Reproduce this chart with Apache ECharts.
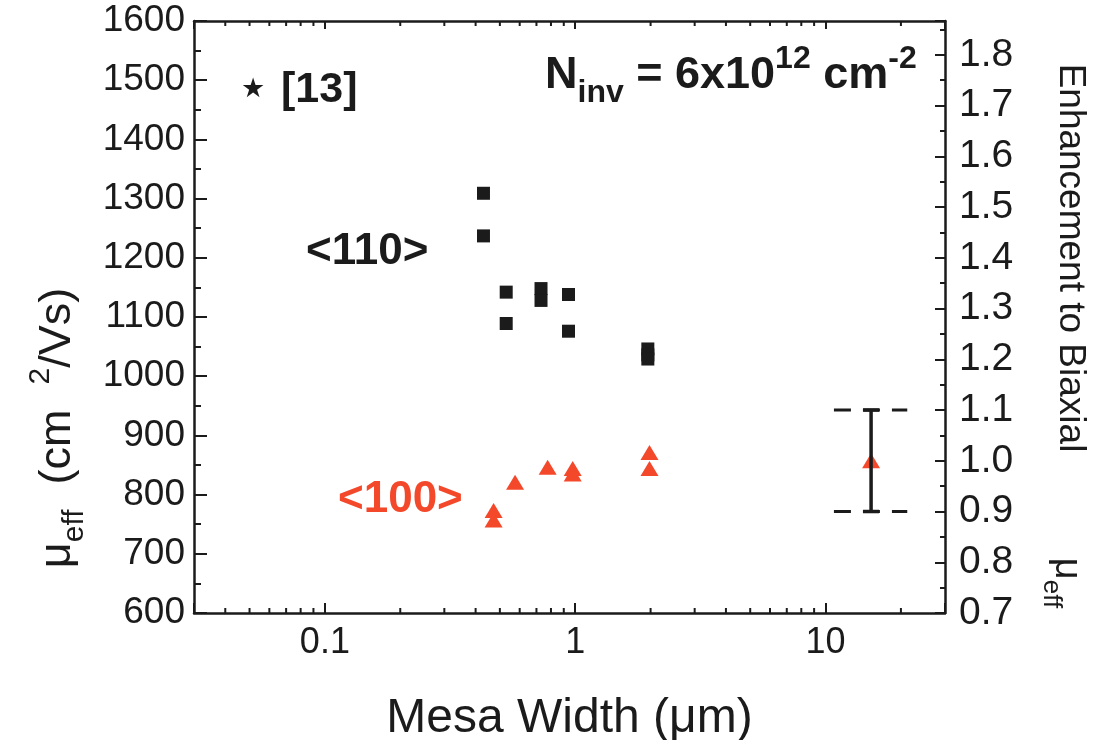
<!DOCTYPE html>
<html><head><meta charset="utf-8">
<script src="https://cdn.jsdelivr.net/npm/echarts@6/dist/echarts.min.js"></script>
<style>html,body{margin:0;padding:0;background:#fff}#c{width:1094px;height:740px}</style>
</head><body><div id="c"></div>
<script>
// ---- data ----
const xMajorLabels = ['0.1', '1', '10'];
const xMinorTicks = [0.04,0.05,0.06,0.07,0.08,0.09,0.2,0.3,0.4,0.5,0.6,0.7,0.8,0.9,2,3,4,5,6,7,8,9,20];
const width110 = [0.43, 0.43, 0.53, 0.53, 0.73, 0.73, 0.94, 0.94, 1.95, 1.95, 1.95];
const mu110    = [1309, 1237, 1142, 1089, 1148, 1128, 1138, 1076, 1046, 1036, 1029];
const width100 = [0.472, 0.472, 0.575, 0.776, 0.977, 0.977, 1.98, 1.98];
const mu100    = [773, 757, 821, 846, 844, 835, 871, 844];
const biaxWidth = [15.2];
const biaxEnh   = [1.0];
const biaxErr   = [0.1];
const dashWidth  = [10.8, 21.2];
const dashLevels = [1.1, 0.9];
const muBiaxial = 600 / 0.7;   // left/right axis ratio

const FONT = "'Liberation Sans', Arial, sans-serif";
const BLACK = '#1b1b1b';
const RED = '#f4482b';

const chart = echarts.init(document.getElementById('c'), null, {renderer: 'canvas'});

const sqData = width110.map((w, i) => [w, mu110[i]]);
const triData = width100.map((w, i) => [w, mu100[i]]);
const errData = biaxWidth.map((w, i) => [w, biaxEnh[i] - biaxErr[i], biaxEnh[i] + biaxErr[i]]);

const axisLineStyle = {color: BLACK, width: 2.5};

const option = {
  backgroundColor: '#fff',
  animation: false,
  grid: {left: 194, right: 149, top: 21, bottom: 127, containLabel: false, outerBoundsMode: 'none'},
  xAxis: [
    {
      type: 'log', logBase: 10, min: 0.03, max: 30, position: 'bottom',
      axisLine: {show: true, lineStyle: axisLineStyle},
      axisTick: {show: true, inside: true, length: 10, lineStyle: {color: BLACK, width: 2}},
      splitLine: {show: false},
      axisLabel: {
        show: true, margin: 12, fontSize: 36, color: BLACK, fontFamily: FONT,
        formatter: v => { const s = String(+v.toPrecision(6)); return xMajorLabels.includes(s) ? s : ''; }
      },
      name: 'Mesa Width (μm)', nameLocation: 'middle', nameGap: 82,
      nameTextStyle: {fontSize: 48, color: BLACK, fontFamily: FONT}
    },
    {
      type: 'log', logBase: 10, min: 0.03, max: 30, position: 'top',
      axisLine: {show: true, lineStyle: axisLineStyle},
      axisTick: {show: true, inside: true, length: 8, lineStyle: {color: BLACK, width: 2}},
      splitLine: {show: false},
      axisLabel: {show: false}
    }
  ],
  yAxis: [
    {
      type: 'value', min: 600, max: 1600, interval: 100, position: 'left',
      axisLine: {show: true, lineStyle: axisLineStyle},
      axisTick: {show: true, inside: true, length: 13, lineStyle: {color: BLACK, width: 2}},
      minorTick: {show: true, splitNumber: 2, length: 7, lineStyle: {color: BLACK, width: 2}},
      splitLine: {show: false},
      axisLabel: {margin: 9, fontSize: 37, color: BLACK, fontFamily: FONT, formatter: v => String(v)}
    },
    {
      type: 'value', min: 0.7, max: 1600 / muBiaxial, interval: 0.1, position: 'right',
      axisLine: {show: true, lineStyle: axisLineStyle},
      axisTick: {show: true, inside: true, length: 10, lineStyle: {color: BLACK, width: 2}},
      minorTick: {show: true, splitNumber: 2, length: 5, lineStyle: {color: BLACK, width: 2}},
      splitLine: {show: false},
      axisLabel: {
        margin: 14, fontSize: 39, color: BLACK, fontFamily: FONT,
        formatter: v => Math.abs(v * 10 - Math.round(v * 10)) < 1e-6 ? v.toFixed(1) : ''
      }
    }
  ],
  graphic: [
    {type: 'text', x: 241, y: 90, style: {
      text: '★', textVerticalAlign: 'middle', fontSize: 27, fontFamily: 'DejaVu Sans', fill: BLACK}},
    {type: 'text', x: 281, y: 90, style: {
      text: '[13]', textVerticalAlign: 'middle', fontSize: 43, fontWeight: 'bold', fontFamily: FONT, fill: BLACK}},
    {type: 'text', x: 545, y: 76, style: {
      text: '{b|N}{sub|inv}{b| = 6x10}{sup|12}{b| cm}{sup|-2}', textVerticalAlign: 'middle', fill: BLACK,
      rich: {b: {fontSize: 45, fontWeight: 'bold', fontFamily: FONT, fill: BLACK, lineHeight: 66},
             sub: {fontSize: 32, fontWeight: 'bold', fontFamily: FONT, fill: BLACK, verticalAlign: 'bottom', lineHeight: 66},
             sup: {fontSize: 32, fontWeight: 'bold', fontFamily: FONT, fill: BLACK, verticalAlign: 'top', lineHeight: 66}}}},
    {type: 'text', x: 306, y: 252, style: {
      text: '<110>', textVerticalAlign: 'middle', fontSize: 44, fontWeight: 'bold', fontFamily: FONT, fill: BLACK}},
    {type: 'text', x: 338, y: 500, style: {
      text: '<100>', textVerticalAlign: 'middle', fontSize: 44, fontWeight: 'bold', fontFamily: FONT, fill: RED}},
    {type: 'text', x: 58, y: 428, rotation: Math.PI / 2, style: {
      text: '{m|μ}{sub|eff}{m|  (cm  }{sup|2}{m|/Vs)}', textAlign: 'center', textVerticalAlign: 'middle', fill: BLACK,
      rich: {m: {fontSize: 45, fontFamily: FONT, fill: BLACK, lineHeight: 64},
             sub: {fontSize: 30, fontFamily: FONT, fill: BLACK, verticalAlign: 'bottom', lineHeight: 64},
             sup: {fontSize: 30, fontFamily: FONT, fill: BLACK, verticalAlign: 'top', lineHeight: 64}}}},
    {type: 'text', x: 1070, y: 258, rotation: -Math.PI / 2, style: {
      text: 'Enhancement to Biaxial', textAlign: 'center', textVerticalAlign: 'middle',
      fontSize: 37, fontFamily: FONT, fill: BLACK}},
    {type: 'text', x: 1066, y: 583, rotation: -Math.PI / 2, style: {
      text: '{m|μ}{sub|eff}', textAlign: 'center', textVerticalAlign: 'middle', fill: BLACK,
      rich: {m: {fontSize: 38, fontFamily: FONT, fill: BLACK, lineHeight: 56},
             sub: {fontSize: 26, fontFamily: FONT, fill: BLACK, verticalAlign: 'bottom', lineHeight: 56}}}}
  ],
  series: [
    {
      name: 'minor ticks', type: 'custom', xAxisIndex: 0, yAxisIndex: 0, silent: true, clip: false,
      data: xMinorTicks.map(v => [v]),
      renderItem: (params, api) => {
        const cs = params.coordSys;
        const x = api.coord([api.value(0), 600])[0];
        const top = cs.y, bottom = cs.y + cs.height;
        const st = {stroke: BLACK, lineWidth: 2};
        return {type: 'group', children: [
          {type: 'line', shape: {x1: x, y1: bottom, x2: x, y2: bottom - 5}, style: st},
          {type: 'line', shape: {x1: x, y1: top, x2: x, y2: top + 5}, style: st}
        ]};
      }
    },
    {
      name: '<110>', type: 'scatter', xAxisIndex: 0, yAxisIndex: 0,
      symbol: 'rect', symbolSize: 13, data: sqData,
      itemStyle: {color: BLACK, opacity: 1}
    },
    {
      name: '<100>', type: 'scatter', xAxisIndex: 0, yAxisIndex: 0,
      symbol: 'triangle', symbolSize: [18, 15], data: triData,
      itemStyle: {color: RED, opacity: 1}
    },
    ...dashLevels.map(lv => ({
      name: 'range ' + lv, type: 'line', xAxisIndex: 0, yAxisIndex: 1, symbol: 'none', silent: true,
      data: dashWidth.map(w => [w, lv]),
      lineStyle: {color: BLACK, width: 3, type: [17, 12]}
    })),
    {
      name: 'biaxial', type: 'scatter', xAxisIndex: 0, yAxisIndex: 1,
      symbol: 'triangle', symbolSize: [18, 15], data: biaxWidth.map((w, i) => [w, biaxEnh[i]]),
      itemStyle: {color: RED, opacity: 1}, z: 2
    },
    {
      name: 'error', type: 'custom', xAxisIndex: 0, yAxisIndex: 1, silent: true, z: 3,
      data: errData,
      renderItem: (params, api) => {
        const lo = api.coord([api.value(0), api.value(1)]);
        const hi = api.coord([api.value(0), api.value(2)]);
        const st = {stroke: BLACK, lineWidth: 3.5};
        return {type: 'group', children: [
          {type: 'line', shape: {x1: lo[0], y1: lo[1], x2: hi[0], y2: hi[1]}, style: st},
          {type: 'line', shape: {x1: lo[0] - 8, y1: lo[1], x2: lo[0] + 8, y2: lo[1]}, style: st},
          {type: 'line', shape: {x1: hi[0] - 8, y1: hi[1], x2: hi[0] + 8, y2: hi[1]}, style: st}
        ]};
      }
    }
  ]
};
chart.setOption(option);
</script></body></html>
